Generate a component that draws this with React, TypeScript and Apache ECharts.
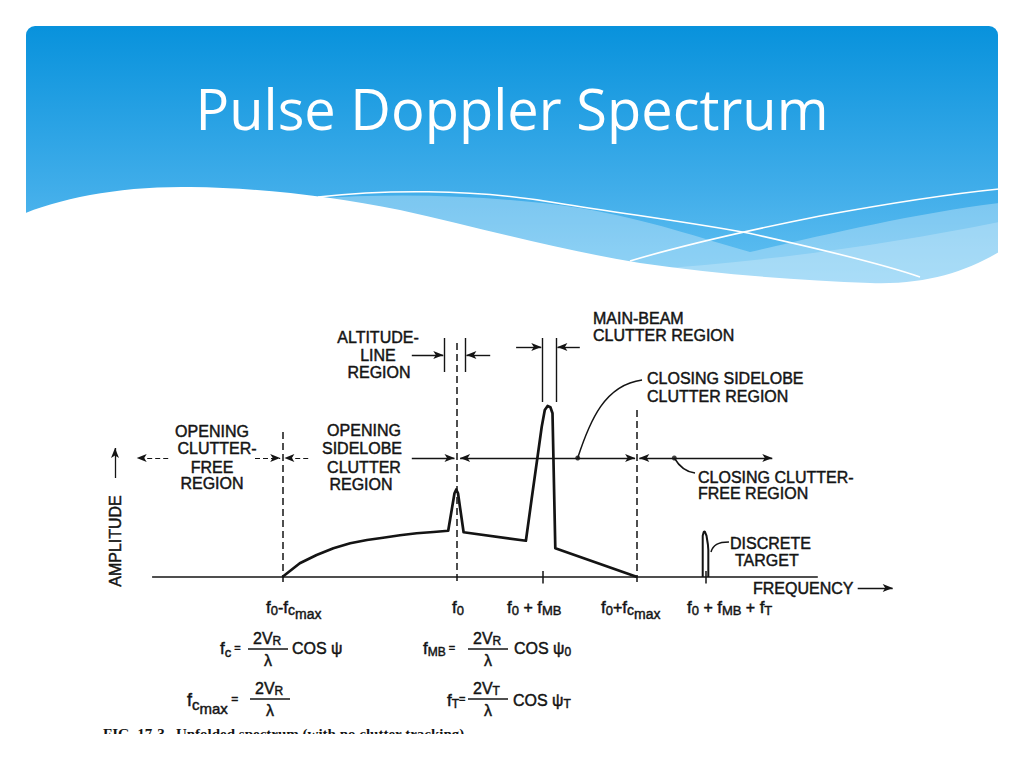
import React, { useEffect, useRef } from "react";
import * as echarts from "echarts";

// ---------- data (schematic units: frequency position, amplitude) ----------
const spectrumX = [18.9, 21.4, 23.8, 26.2, 28.6, 31.0, 33.3, 35.7, 38.1, 40.5, 42.6, 43.5, 43.75, 44.0, 44.8, 53.7, 54.5, 55.3, 55.96, 56.4, 56.8, 57.2, 57.5, 57.9, 69.6];
const spectrumY = [0, 5.5, 8.8, 11.5, 13.5, 14.8, 15.7, 16.7, 17.5, 18.0, 18.5, 33.5, 35.0, 33.5, 17.9, 14.5, 30.8, 46.8, 60.1, 66.8, 68.4, 67.9, 65.5, 11.5, 0];
const targetX = [78.96, 78.96, 79.1, 79.25, 79.5, 79.7, 79.76, 79.76];
const targetY = [0, 16.5, 18.0, 18.2, 16.5, 13.0, 10.8, 0];

const markerPos = [18.9, 43.8, 56.1, 69.6, 79.4];
const markerTop = [58, 93.6, 2.4, 66.8, 2.4];
const markerDashed = [true, true, false, true, false];
const regionLevel = 47.6;
const leaderDots = [61.1, 74.9];
const baselineFrom = 0.3;
const baselineTo = 95.4;

const titleText = "Pulse Doppler Spectrum";
const captionText = "FIG. 17-3   Unfolded spectrum (with no clutter tracking).";

// ---------- helpers ----------
const INK = "#141414";
const FONT = '"Liberation Sans", Arial, sans-serif';
const ARROW = [6, 10];
const THICK = 0.45;

let measureCtx: CanvasRenderingContext2D | null = null;
function measure(t: string, size: number): number {
  if (!measureCtx) measureCtx = document.createElement("canvas").getContext("2d");
  if (!measureCtx) return t.length * size * 0.6;
  measureCtx.font = `${size}px "Liberation Sans"`;
  return measureCtx.measureText(t).width;
}

type Piece = [string, number, number];
function run(x: number, y: number, list: Piece[]): any[] {
  const out: any[] = [];
  let cx = x;
  for (const [t, s, dy] of list) {
    out.push({
      type: "text", x: cx, y: y + dy, z: 20,
      style: { text: t, fill: INK, stroke: INK, lineWidth: THICK, fontSize: s, fontFamily: FONT, align: "left", verticalAlign: "middle" },
    });
    cx += measure(t, s);
  }
  return out;
}
function txt(t: string, x: number, y: number, align = "left", size = 16, extra: any = {}): any {
  return {
    type: "text", x, y, z: 20, ...extra,
    style: { text: t, fill: INK, stroke: INK, lineWidth: THICK, fontSize: size, fontFamily: FONT, align, verticalAlign: "middle" },
  };
}
function hline(x1: number, x2: number, y: number, w = 1.4): any {
  return { type: "line", z: 20, shape: { x1, y1: y, x2, y2: y }, style: { stroke: INK, lineWidth: w } };
}

function seg(x1: number, y1: number, x2: number, y2: number, o: { a1?: boolean; a2?: boolean; dash?: any; w?: number }) {
  return [
    {
      coord: [x1, y1], symbol: o.a1 ? "arrow" : "none", symbolSize: ARROW,
      lineStyle: { color: INK, width: o.w ?? 1.4, type: o.dash ?? "solid" },
    },
    { coord: [x2, y2], symbol: o.a2 ? "arrow" : "none", symbolSize: ARROW },
  ];
}

// ---------- background shapes ----------
const WAVE_WHITE = "M 18 216 C 60 198 120 186 190 187 C 260 188 330 196 400 210 C 480 228 560 250 640 263 C 720 275 800 280 870 283 C 925 285 965 272 999 252 L 1006 310 L 18 310 Z";
const WAVE_LIGHT = "M 310 199 C 400 192 500 196 580 208 C 650 220 700 238 750 252 C 820 236 910 214 999 203 L 999 310 L 310 310 Z";
const WAVE_LIGHTER = "M 640 270 C 760 262 880 246 999 222 L 999 310 L 640 310 Z";
const LINE_ONE = "M 318 197 C 380 190 470 188 557 203 C 640 216 700 224 748 233 C 820 249 880 263 920 277";
const LINE_TWO = "M 630 261 C 690 243 760 228 820 216 C 880 205 940 195 999 189";
let registered = false;
function registerShapes() {
  if (registered) return;
  registered = true;
  echarts.graphic.registerShape("waveWhite", echarts.graphic.extendPath(WAVE_WHITE, {}));
  echarts.graphic.registerShape("waveLight", echarts.graphic.extendPath(WAVE_LIGHT, {}));
  echarts.graphic.registerShape("waveLighter", echarts.graphic.extendPath(WAVE_LIGHTER, {}));
  echarts.graphic.registerShape("lineOne", echarts.graphic.extendPath(LINE_ONE, {}));
  echarts.graphic.registerShape("lineTwo", echarts.graphic.extendPath(LINE_TWO, {}));
}

export default function App() {
  const ref = useRef<HTMLDivElement>(null);
  useEffect(() => {
    if (!ref.current) return;
    registerShapes();
    const chart = echarts.init(ref.current, undefined, { renderer: "svg" });

    const markLines: any[] = [];
    markLines.push(seg(baselineFrom, 0, baselineTo, 0, { w: 1.7 }));
    markerPos.forEach((x, i) => {
      markLines.push(seg(x, markerTop[i], x, -2.6, { dash: markerDashed[i] ? [7, 4] : "solid", w: 1.5 }));
    });
    const L = regionLevel;
    markLines.push(seg(2.6, L, -1.9, L, { a2: true, dash: [5, 3], w: 1.1 }));
    markLines.push(seg(15.0, L, 18.6, L, { a2: true, dash: [5, 3], w: 1.1 }));
    markLines.push(seg(22.6, L, 19.2, L, { a2: true, dash: [5, 3], w: 1.1 }));
    markLines.push(seg(37.4, L, 43.5, L, { a2: true }));
    markLines.push(seg(44.3, L, 69.3, L, { a1: true, a2: true }));
    markLines.push(seg(69.9, L, 88.9, L, { a1: true, a2: true }));
    markLines.push(seg(42.1, 95.6, 42.1, 82, {}));
    markLines.push(seg(45.0, 95.6, 45.0, 82, {}));
    markLines.push(seg(37.4, 88.8, 41.9, 88.8, { a2: true }));
    markLines.push(seg(48.6, 88.8, 45.2, 88.8, { a2: true }));
    markLines.push(seg(56.1, 95.6, 56.1, 70, {}));
    markLines.push(seg(58.0, 95.6, 58.0, 70, {}));
    markLines.push(seg(52.3, 92, 55.9, 92, { a2: true }));
    markLines.push(seg(61.4, 92, 58.2, 92, { a2: true }));
    markLines.push(seg(-5, 39.6, -5, 51.6, { a2: true, w: 1.3 }));
    markLines.push(seg(101.1, -4.4, 106.1, -4.4, { a2: true, w: 1.3 }));

    const option: any = {
      animation: false,
      backgroundColor: "#ffffff",
      grid: { left: 108, top: 302, width: 791, height: 287.5, show: false },
      xAxis: { type: "value", min: -6, max: 107, show: false },
      yAxis: { type: "value", min: -5, max: 110, show: false },
      series: [
        {
          type: "line", data: spectrumX.map((x, i) => [x, spectrumY[i]]), symbol: "none", clip: false,
          lineStyle: { color: INK, width: 2.7, join: "round" }, z: 5,
          markLine: { silent: true, symbol: "none", label: { show: false }, data: markLines, z: 4, precision: 4 },
        },
        {
          type: "line", data: targetX.map((x, i) => [x, targetY[i]]), symbol: "none", clip: false,
          lineStyle: { color: INK, width: 2.0 }, z: 5,
        },
        {
          type: "scatter", data: leaderDots.map((x) => [x, regionLevel]), symbolSize: 5, clip: false,
          itemStyle: { color: INK }, z: 6,
        },
      ],
    };
    chart.setOption(option);

    const P = (x: number, y: number) => chart.convertToPixel({ gridIndex: 0 }, [x, y]) as number[];
    const bez = (pts: number[][]) => {
      const [a, b, c, d] = pts.map((p) => P(p[0], p[1]));
      return {
        type: "bezierCurve", z: 20,
        shape: { x1: a[0], y1: a[1], cpx1: b[0], cpy1: b[1], cpx2: c[0], cpy2: c[1], x2: d[0], y2: d[1] },
        style: { stroke: INK, lineWidth: 1.5, fill: "none" },
      };
    };

    const g: any[] = [];
    g.push({
      type: "rect", z: -5, shape: { x: 26, y: 26, width: 972, height: 280, r: [9, 9, 0, 0] },
      style: { fill: new echarts.graphic.LinearGradient(0, 0, 0, 1, [
        { offset: 0, color: "#0892dc" }, { offset: 0.6, color: "#42aeea" }, { offset: 1, color: "#6cc6f4" },
      ]) },
    });
    g.push({ type: "waveLight", z: -4, x: 0, y: 0, style: { fill: "rgba(255,255,255,0.3)" } });
    g.push({ type: "waveLighter", z: -4, x: 0, y: 0, style: { fill: "rgba(255,255,255,0.22)" } });
    g.push({ type: "lineOne", z: -3, x: 0, y: 0, style: { fill: "none", stroke: "#ffffff", lineWidth: 1.6 } });
    g.push({ type: "lineTwo", z: -3, x: 0, y: 0, style: { fill: "none", stroke: "#ffffff", lineWidth: 1.6 } });
    g.push({ type: "waveWhite", z: -2, x: 0, y: 0, style: { fill: "#ffffff" } });
    g.push({
      type: "text", x: 512, y: 108, z: 10,
      style: { text: titleText, fill: "#ffffff", fontSize: 56, fontFamily: '"Open Sans", sans-serif', align: "center", verticalAlign: "middle" },
    });

    g.push(txt("ALTITUDE-", 378, 337, "center"), txt("LINE", 378, 355, "center"), txt("REGION", 379, 372, "center"));
    g.push(txt("MAIN-BEAM", 593, 318), txt("CLUTTER REGION", 593, 335));
    g.push(txt("CLOSING SIDELOBE", 647, 378), txt("CLUTTER REGION", 647, 396));
    g.push(txt("CLOSING CLUTTER-", 698, 477), txt("FREE REGION", 698, 493));
    g.push(txt("OPENING", 212, 431, "center"), txt("CLUTTER-", 217, 448, "center"), txt("FREE", 212, 467, "center"), txt("REGION", 212, 483, "center"));
    g.push(txt("OPENING", 364, 430, "center"), txt("SIDELOBE", 362, 448, "center"), txt("CLUTTER", 364, 467, "center"), txt("REGION", 361, 484, "center"));
    g.push(txt("DISCRETE", 730, 543), txt("TARGET", 735, 560));
    g.push(txt("FREQUENCY", 753, 588));
    g.push(txt("AMPLITUDE", 115, 541, "center", 16, { rotation: Math.PI / 2 }));

    g.push(bez([[61.1, 47.6], [62.86, 62.8], [65.0, 76.8], [70.29, 78.8]]));
    g.push(bez([[74.9, 47.6], [75.57, 44.4], [76.57, 42.0], [77.86, 41.6]]));
    g.push(bez([[80.14, 10.0], [80.43, 12.8], [81.14, 14.0], [82.71, 14.0]]));

    const ty = 607;
    g.push(...run(266, ty, [["f", 17, 0], ["0", 13, 3], ["-", 16, 0], ["f", 17, 0], ["c", 14, 3], ["max", 14, 7]]));
    g.push(...run(452, ty, [["f", 17, 0], ["0", 13, 3]]));
    g.push(...run(507, ty, [["f", 17, 0], ["0", 13, 3], [" + ", 16, 0], ["f", 17, 0], ["MB", 13, 3]]));
    g.push(...run(601, ty, [["f", 17, 0], ["0", 13, 3], ["+", 16, 0], ["f", 17, 0], ["c", 14, 3], ["max", 14, 7]]));
    g.push(...run(687, ty, [["f", 17, 0], ["0", 13, 3], [" + ", 16, 0], ["f", 17, 0], ["MB", 13, 3], [" + ", 16, 0], ["f", 17, 0], ["T", 13, 3]]));

    const frac = (left: number, barY: number, sub: string) => {
      const out: any[] = [];
      out.push(...run(left + 5, barY - 11, [["2V", 16, 0], [sub, 12, 3]]));
      out.push(hline(left, left + 40, barY, 1.4));
      out.push(txt("λ", left + 20, barY + 11, "center", 16));
      return out;
    };
    g.push(...run(220, 648, [["f", 17, 0], ["c", 13, 4], [" =", 11, 0]]));
    g.push(...frac(248, 649, "R"));
    g.push(...run(292, 648, [["COS ψ", 16, 0]]));

    g.push(...run(423, 648, [["f", 17, 0], ["MB", 12, 4], [" =", 11, 0]]));
    g.push(...frac(468, 649, "R"));
    g.push(...run(514, 648, [["COS ψ", 16, 0], ["0", 12, 4]]));

    g.push(...run(187, 700, [["f", 18, 0], ["c", 15, 4], ["max", 15, 8], [" =", 12, -1]]));
    g.push(...frac(250, 699, "R"));

    g.push(...run(447, 700, [["f", 17, 0], ["T", 12, 4], ["=", 11, -1]]));
    g.push(...frac(468, 699, "T"));
    g.push(...run(513, 700, [["COS ψ", 16, 0], ["T", 12, 4]]));

    g.push({
      type: "text", x: 103, y: 734, z: 20,
      style: { text: captionText, fill: INK, fontSize: 15, fontWeight: "bold", fontFamily: '"Liberation Serif", serif', align: "left", verticalAlign: "middle" },
    });
    g.push({ type: "rect", z: 30, shape: { x: 0, y: 734, width: 1024, height: 40 }, style: { fill: "#ffffff" } });

    chart.setOption({ graphic: { elements: g } });
    return () => chart.dispose();
  }, []);
  return <div ref={ref} style={{ position: "fixed", left: 0, top: 0, width: 1024, height: 768 }} />;
}
